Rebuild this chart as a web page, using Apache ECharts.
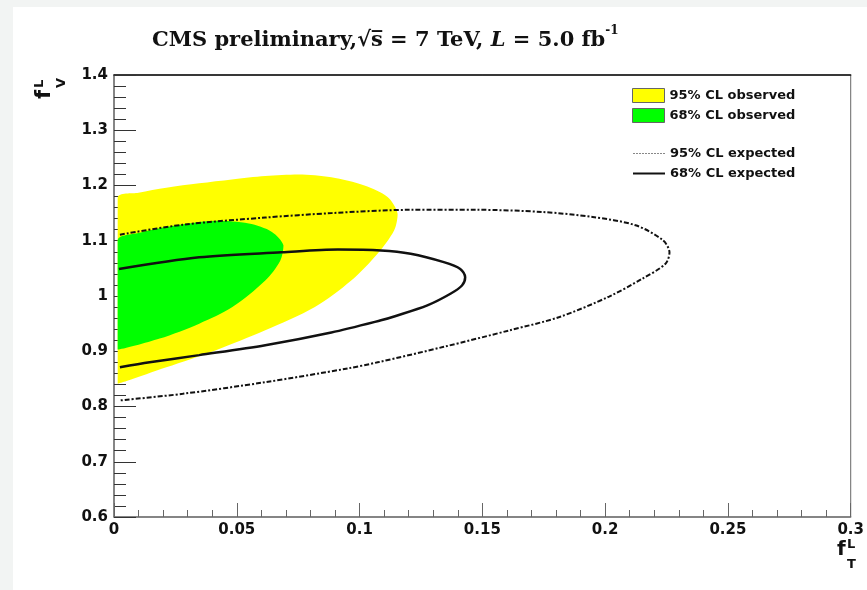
<!DOCTYPE html>
<html>
<head>
<meta charset="utf-8">
<script src="https://cdn.jsdelivr.net/npm/echarts@6/dist/echarts.min.js"></script>
<style>
  html, body { margin: 0; padding: 0; background: #f2f4f3; }
  #chart { width: 867px; height: 590px; }
</style>
</head>
<body>
<div id="chart"></div>
<script>
  // contour points [f_T^L, f_V^L]
  var obs95 = [
    [0.0015, 1.178], [0.010, 1.187], [0.0213, 1.196], [0.0347, 1.204], [0.048, 1.211],
    [0.0616, 1.217], [0.0751, 1.220], [0.0885, 1.215], [0.102, 1.200], [0.1114, 1.179],
    [0.1155, 1.149], [0.1141, 1.119], [0.1074, 1.077], [0.0966, 1.028], [0.0818, 0.980],
    [0.0616, 0.938], [0.0415, 0.902], [0.0213, 0.871], [0.0051, 0.846], [0.0015, 0.841]
  ];
  var obs68 = [
    [0.0015, 1.101], [0.010, 1.114], [0.0213, 1.125], [0.0415, 1.136], [0.0549, 1.131],
    [0.0643, 1.116], [0.069, 1.092], [0.0677, 1.064], [0.0616, 1.028], [0.0482, 0.980],
    [0.0347, 0.950], [0.0186, 0.923], [0.0015, 0.903]
  ];
  var exp95 = [
    [0.0024, 1.111], [0.028, 1.129], [0.0616, 1.142], [0.0885, 1.150], [0.1208, 1.156],
    [0.1478, 1.156], [0.1747, 1.152], [0.1949, 1.143], [0.2124, 1.128], [0.2235, 1.101],
    [0.2262, 1.079], [0.2245, 1.058], [0.215, 1.031], [0.2016, 0.999], [0.1814, 0.962],
    [0.1612, 0.938], [0.1343, 0.908], [0.1074, 0.880], [0.0953, 0.869], [0.0616, 0.844],
    [0.028, 0.823], [0.0024, 0.811]
  ];
  var exp68 = [
    [0.0020, 1.049], [0.0347, 1.070], [0.0683, 1.079], [0.0912, 1.084], [0.1087, 1.0825],
    [0.1208, 1.0765], [0.1343, 1.0613], [0.141, 1.049], [0.143, 1.034], [0.1417, 1.019],
    [0.137, 1.004], [0.1276, 0.983], [0.1141, 0.963], [0.1087, 0.956], [0.0885, 0.934],
    [0.0616, 0.911], [0.0347, 0.893], [0.0145, 0.880], [0.0024, 0.871]
  ];
  var xRange = [0, 0.3], xStep = 0.05;
  var yRange = [0.6, 1.4], yStep = 0.1;

  var chart = echarts.init(document.getElementById('chart'));

  // one closed band per series, drawn once from its point list
  function bandRenderer(points) {
    return function (params, api) {
      if (params.dataIndex !== 0) return null;
      var pts = points.map(function (p) { return api.coord(p); });
      var xs = pts.map(function (p) { return p[0]; });
      var ys = pts.map(function (p) { return p[1]; });
      return {
        type: 'polygon',
        shape: {
          points: pts,
          smooth: 0.3,
          smoothConstraint: [
            [Math.min.apply(null, xs), Math.min.apply(null, ys)],
            [Math.max.apply(null, xs), Math.max.apply(null, ys)]
          ]
        },
        style: { fill: api.visual('color') }
      };
    };
  }

  var labelStyle = { color: '#111', fontFamily: 'DejaVu Sans', fontWeight: 'bold', fontSize: 15 };
  var legendText = { color: '#111', fontFamily: 'DejaVu Sans', fontWeight: 'bold', fontSize: 13 };
  var serif = { fontFamily: 'DejaVu Serif', fontWeight: 'bold', fontSize: 21, color: '#111', lineHeight: 23, verticalAlign: 'bottom' };

  var option = {
    backgroundColor: '#f2f4f3',
    animation: false,
    title: {
      text: '{a|CMS preliminary,\u221As\u0305 = 7 TeV, }{i|L}{a| = 5.0 fb}{s|-1}',
      left: 152,
      top: 28,
      padding: 0,
      textStyle: {
        rich: {
          a: serif,
          i: Object.assign({}, serif, { fontStyle: 'italic' }),
          s: { fontFamily: 'DejaVu Serif', fontWeight: 'bold', fontSize: 12, color: '#111', lineHeight: 12, padding: [0, 0, 14, 0], verticalAlign: 'bottom' }
        }
      }
    },
    legend: [{
      orient: 'vertical',
      left: 632,
      top: 88,
      padding: 0,
      itemWidth: 32,
      itemHeight: 14,
      itemGap: 5,
      selectedMode: false,
      textStyle: legendText,
      data: [
        { name: '95% CL observed', icon: 'rect', itemStyle: { borderColor: '#666', borderWidth: 1 } },
        { name: '68% CL observed', icon: 'rect', itemStyle: { borderColor: '#666', borderWidth: 1 } }
      ]
    }, {
      orient: 'vertical',
      left: 632,
      top: 147,
      padding: 0,
      itemWidth: 32,
      itemHeight: 14,
      itemGap: 7,
      selectedMode: false,
      textStyle: legendText,
      data: [
        { name: '95% CL expected', itemStyle: { opacity: 0 }, lineStyle: { color: '#888', width: 1, type: [2, 1] } },
        { name: '68% CL expected', itemStyle: { opacity: 0 } }
      ]
    }],
    grid: {
      left: 114, right: 10, top: 75, bottom: 73,
      show: true, borderColor: '#666', borderWidth: 1
    },
    xAxis: [{
      type: 'value',
      min: xRange[0], max: xRange[1], interval: xStep,
      axisLine: { lineStyle: { color: '#777', width: 1.5 } },
      axisTick: { inside: true, length: 14, lineStyle: { color: '#666' } },
      minorTick: { show: true, splitNumber: 5, length: 7, lineStyle: { color: '#666' } },
      splitLine: { show: false },
      axisLabel: Object.assign({ margin: 6 }, labelStyle)
    }, {
      // top frame edge
      type: 'value', position: 'top',
      min: xRange[0], max: xRange[1],
      axisLine: { lineStyle: { color: '#111', width: 1.5 } },
      axisTick: { show: false }, axisLabel: { show: false }, splitLine: { show: false }
    }],
    yAxis: {
      type: 'value',
      min: yRange[0], max: yRange[1], interval: yStep,
      axisLine: { lineStyle: { color: '#777', width: 1.5 } },
      axisTick: { inside: true, length: 22, lineStyle: { color: '#333' } },
      minorTick: { show: true, splitNumber: 5, length: 12, lineStyle: { color: '#333' } },
      splitLine: { show: false },
      axisLabel: Object.assign({ margin: 6 }, labelStyle)
    },
    graphic: [
      { type: 'rect', z: -10, shape: { x: 13, y: 7, width: 854, height: 583 }, style: { fill: '#fff' } },
      {
        type: 'group', x: 837, y: 538,
        children: [
          { type: 'text', x: 0, y: 12, style: { text: 'f', font: 'bold 20px DejaVu Sans', fill: '#111', textVerticalAlign: 'middle' } },
          { type: 'text', x: 10, y: 7, style: { text: 'L', font: 'bold 13px DejaVu Sans', fill: '#111', textVerticalAlign: 'middle' } },
          { type: 'text', x: 10, y: 27, style: { text: 'T', font: 'bold 13px DejaVu Sans', fill: '#111', textVerticalAlign: 'middle' } }
        ]
      },
      {
        type: 'group', x: 52, y: 99, rotation: Math.PI / 2,
        children: [
          { type: 'text', x: 0, y: -7.5, style: { text: 'f', font: 'bold 21px DejaVu Sans', fill: '#111', textVerticalAlign: 'middle' } },
          { type: 'text', x: 11, y: -12.5, style: { text: 'L', font: 'bold 13px DejaVu Sans', fill: '#111', textVerticalAlign: 'middle' } },
          { type: 'text', x: 11, y: 9.5, style: { text: 'V', font: 'bold 13px DejaVu Sans', fill: '#111', textVerticalAlign: 'middle' } }
        ]
      }
    ],
    series: [
      {
        name: '95% CL observed', type: 'custom', clip: true, z: 1,
        itemStyle: { color: '#ffff00' },
        renderItem: bandRenderer(obs95), data: obs95
      },
      {
        name: '68% CL observed', type: 'custom', clip: true, z: 2,
        itemStyle: { color: '#00ff00' },
        renderItem: bandRenderer(obs68), data: obs68
      },
      {
        name: '95% CL expected', type: 'line', symbol: 'none', smooth: 0.3, z: 3,
        lineStyle: { color: '#111', width: 2, type: [5, 2, 2, 2] },
        itemStyle: { color: '#111' },
        data: exp95
      },
      {
        name: '68% CL expected', type: 'line', symbol: 'none', smooth: 0.3, z: 4,
        lineStyle: { color: '#111', width: 2.5 },
        itemStyle: { color: '#111' },
        data: exp68
      }
    ]
  };

  chart.setOption(option);
</script>
</body>
</html>
